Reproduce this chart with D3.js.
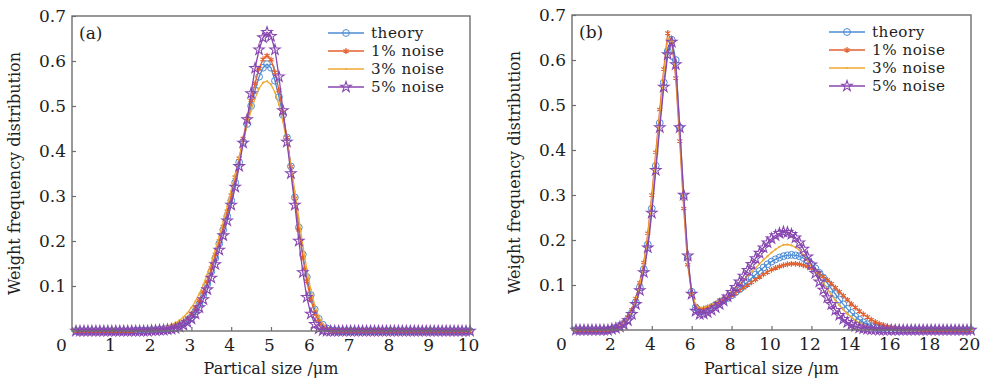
<!DOCTYPE html>
<html>
<head>
<meta charset="utf-8">
<script src="https://cdn.jsdelivr.net/npm/d3@7"></script>
<style>
  body { margin: 0; background: #fff; }
  svg text { font-family: "DejaVu Serif", serif; fill: #1e1e1e; }
</style>
</head>
<body>
<svg id="chart" width="982" height="382"></svg>
<script>
// series names and styles
const seriesNames = ["theory", "1% noise", "3% noise", "5% noise"];
const seriesColors = ["#4c8bd2", "#e4612f", "#f0a935", "#8747b0"];
const seriesMarkers = ["circle", "asterisk", "dot", "star"];

// panel (a): particle size 0.1..10 um
const sizesA = [0.1,0.2,0.3,0.4,0.5,0.6,0.7,0.8,0.9,1.0,1.1,1.2,1.3,1.4,1.5,1.6,1.7,1.8,1.9,2.0,
  2.1,2.2,2.3,2.4,2.5,2.6,2.7,2.8,2.9,3.0,3.1,3.2,3.3,3.4,3.5,3.6,3.7,3.8,3.9,4.0,
  4.1,4.2,4.3,4.4,4.5,4.6,4.7,4.8,4.9,5.0,5.1,5.2,5.3,5.4,5.5,5.6,5.7,5.8,5.9,6.0,
  6.1,6.2,6.3,6.4,6.5,6.6,6.7,6.8,6.9,7.0,7.1,7.2,7.3,7.4,7.5,7.6,7.7,7.8,7.9,8.0,
  8.1,8.2,8.3,8.4,8.5,8.6,8.7,8.8,8.9,9.0,9.1,9.2,9.3,9.4,9.5,9.6,9.7,9.8,9.9,10.0];

const theoryA = [0,0,0,0,0,0,0,0,0,0,0,0,0,0,0,0.001,0.001,0.001,0.001,0.002,
  0.002,0.003,0.004,0.005,0.007,0.009,0.012,0.016,0.022,0.030,0.044,0.060,0.080,0.104,0.132,0.162,0.194,0.225,0.255,0.290,
  0.330,0.375,0.420,0.460,0.500,0.535,0.565,0.585,0.593,0.585,0.556,0.520,0.480,0.430,0.366,0.297,0.230,0.170,0.120,0.080,
  0.048,0.027,0.014,0.006,0.002,0.001,0,0,0,0,0,0,0,0,0,0,0,0,0,0,
  0,0,0,0,0,0,0,0,0,0,0,0,0,0,0,0,0,0,0,0];
const noise1A = [0,0,0,0,0,0,0,0,0,0,0,0,0,0,0,0.001,0.001,0.002,0.002,0.003,
  0.003,0.004,0.005,0.007,0.009,0.012,0.016,0.021,0.028,0.038,0.051,0.067,0.087,0.110,0.140,0.170,0.200,0.232,0.266,0.302,
  0.342,0.384,0.428,0.472,0.512,0.550,0.583,0.604,0.612,0.603,0.575,0.535,0.486,0.430,0.365,0.295,0.225,0.163,0.110,0.070,
  0.040,0.021,0.010,0.004,0.001,0,0,0,0,0,0,0,0,0,0,0,0,0,0,0,
  0,0,0,0,0,0,0,0,0,0,0,0,0,0,0,0,0,0,0,0];
const noise3A = [0,0,0,0,0,0,0,0,0,0,0,0,0,0,0,0.001,0.002,0.002,0.003,0.004,
  0.005,0.006,0.008,0.011,0.014,0.018,0.024,0.031,0.040,0.052,0.066,0.083,0.103,0.126,0.152,0.180,0.210,0.243,0.277,0.312,
  0.348,0.385,0.422,0.458,0.490,0.517,0.539,0.552,0.555,0.548,0.530,0.503,0.465,0.420,0.368,0.310,0.250,0.190,0.137,0.092,
  0.057,0.032,0.016,0.007,0.003,0.001,0,0,0,0,0,0,0,0,0,0,0,0,0,0,
  0,0,0,0,0,0,0,0,0,0,0,0,0,0,0,0,0,0,0,0];
const noise5A = [0,0,0,0,0,0,0,0,0,0,0,0,0,0,0,0,0,0,0,0.001,
  0.001,0.002,0.002,0.003,0.004,0.006,0.009,0.013,0.019,0.027,0.038,0.052,0.070,0.092,0.118,0.148,0.180,0.212,0.245,0.280,
  0.320,0.366,0.418,0.470,0.528,0.584,0.625,0.652,0.664,0.655,0.625,0.565,0.490,0.420,0.350,0.280,0.200,0.130,0.075,0.038,
  0.015,0.005,0.001,0,0,0,0,0,0,0,0,0,0,0,0,0,0,0,0,0,
  0,0,0,0,0,0,0,0,0,0,0,0,0,0,0,0,0,0,0,0];

// panel (b): particle size 0.2..20 um
const sizesB = [0.2,0.4,0.6,0.8,1.0,1.2,1.4,1.6,1.8,2.0,2.2,2.4,2.6,2.8,3.0,3.2,3.4,3.6,3.8,4.0,
  4.2,4.4,4.6,4.8,5.0,5.2,5.4,5.6,5.8,6.0,6.2,6.4,6.6,6.8,7.0,7.2,7.4,7.6,7.8,8.0,
  8.2,8.4,8.6,8.8,9.0,9.2,9.4,9.6,9.8,10.0,10.2,10.4,10.6,10.8,11.0,11.2,11.4,11.6,11.8,12.0,
  12.2,12.4,12.6,12.8,13.0,13.2,13.4,13.6,13.8,14.0,14.2,14.4,14.6,14.8,15.0,15.2,15.4,15.6,15.8,16.0,
  16.2,16.4,16.6,16.8,17.0,17.2,17.4,17.6,17.8,18.0,18.2,18.4,18.6,18.8,19.0,19.2,19.4,19.6,19.8,20.0];

const theoryB = [0,0,0,0,0,0,0,0,0,0.002,0.004,0.008,0.014,0.024,0.038,0.062,0.095,0.135,0.190,0.270,
  0.365,0.460,0.550,0.620,0.645,0.600,0.450,0.295,0.160,0.085,0.050,0.040,0.043,0.047,0.051,0.056,0.061,0.066,0.071,0.077,
  0.084,0.091,0.098,0.106,0.115,0.123,0.131,0.139,0.146,0.152,0.157,0.161,0.164,0.166,0.167,0.166,0.164,0.160,0.154,0.146,
  0.137,0.127,0.116,0.104,0.092,0.080,0.068,0.057,0.047,0.038,0.030,0.023,0.017,0.013,0.009,0.006,0.004,0.003,0.002,0.001,
  0.001,0,0,0,0,0,0,0,0,0,0,0,0,0,0,0,0,0,0,0];
const noise1B = [0,0,0,0,0,0,0,0,0,0.003,0.005,0.010,0.017,0.029,0.045,0.070,0.105,0.150,0.215,0.300,
  0.395,0.490,0.580,0.660,0.640,0.560,0.420,0.270,0.145,0.080,0.053,0.047,0.048,0.050,0.053,0.057,0.061,0.066,0.071,0.076,
  0.082,0.088,0.094,0.100,0.106,0.112,0.118,0.124,0.129,0.134,0.138,0.141,0.144,0.146,0.147,0.147,0.146,0.144,0.141,0.137,
  0.132,0.126,0.119,0.111,0.103,0.094,0.085,0.076,0.067,0.058,0.050,0.042,0.035,0.029,0.023,0.018,0.014,0.011,0.008,0.006,
  0.004,0.003,0.002,0.002,0.001,0.001,0.001,0,0,0,0,0,0,0,0,0,0,0,0,0];
const noise3B = [0,0,0,0,0,0,0,0,0,0.003,0.005,0.009,0.016,0.027,0.043,0.068,0.102,0.146,0.210,0.292,
  0.385,0.480,0.570,0.648,0.640,0.575,0.435,0.285,0.155,0.085,0.055,0.049,0.050,0.053,0.057,0.062,0.067,0.073,0.079,0.086,
  0.094,0.102,0.111,0.120,0.129,0.138,0.147,0.156,0.164,0.172,0.179,0.185,0.189,0.190,0.188,0.184,0.177,0.167,0.155,0.143,
  0.131,0.118,0.105,0.091,0.078,0.066,0.055,0.045,0.036,0.029,0.022,0.016,0.012,0.008,0.005,0.003,0.002,0.001,0.001,0,
  0,0,0,0,0,0,0,0,0,0,0,0,0,0,0,0,0,0,0,0];
const noise5B = [0,0,0,0,0,0,0,0,0,0.002,0.004,0.007,0.012,0.021,0.035,0.057,0.088,0.128,0.183,0.260,
  0.355,0.450,0.540,0.612,0.640,0.590,0.450,0.300,0.165,0.080,0.042,0.035,0.036,0.039,0.044,0.050,0.057,0.065,0.074,0.084,
  0.095,0.107,0.120,0.133,0.146,0.159,0.171,0.183,0.194,0.203,0.210,0.215,0.218,0.217,0.213,0.205,0.194,0.180,0.163,0.145,
  0.126,0.107,0.089,0.072,0.057,0.044,0.033,0.024,0.017,0.012,0.008,0.005,0.003,0.002,0.001,0.001,0,0,0,0,
  0,0,0,0,0,0,0,0,0,0,0,0,0,0,0,0,0,0,0,0];

const yTicks = [0.1, 0.2, 0.3, 0.4, 0.5, 0.6, 0.7];
const xTicksA = [0,1,2,3,4,5,6,7,8,9,10];
const xTicksB = [0,2,4,6,8,10,12,14,16,18,20];

const svg = d3.select("#chart");

function drawMarker(g, type, color, x, y) {
    if (type === "circle") {
        g.append("circle").attr("cx", x).attr("cy", y).attr("r", 3.4)
            .attr("fill", "none").attr("stroke", color).attr("stroke-width", 1);
    } else if (type === "asterisk") {
        g.append("path").attr("transform", `translate(${x},${y})`)
            .attr("d", d3.symbol(d3.symbolAsterisk, 24)())
            .attr("fill", "none").attr("stroke", color).attr("stroke-width", 1.2);
    } else if (type === "dot") {
        g.append("circle").attr("cx", x).attr("cy", y).attr("r", 1.1).attr("fill", color);
    } else {
        g.append("path").attr("transform", `translate(${x},${y})`)
            .attr("d", d3.symbol(d3.symbolStar, 34)())
            .attr("fill", "none").attr("stroke", color).attr("stroke-width", 1.1);
    }
}

function drawPanel(opt) {
    const g = svg.append("g");
    const x = d3.scaleLinear().domain(opt.xDomain).range([opt.left, opt.right]);
    const y = d3.scaleLinear().domain([0, 0.7]).range([opt.bottom, opt.top]);

    const line = d3.line().x(d => x(d[0])).y(d => y(d[1]));
    opt.series.forEach((vals, i) => {
        const pts = opt.sizes.map((s, k) => [s, vals[k]]);
        const sg = g.append("g");
        sg.append("path").datum(pts).attr("d", line)
            .attr("fill", "none").attr("stroke", seriesColors[i]).attr("stroke-width", 1.3);
        pts.forEach(p => drawMarker(sg, seriesMarkers[i], seriesColors[i], x(p[0]), y(p[1])));
    });

    // frame
    g.append("rect").attr("x", opt.left).attr("y", opt.top)
        .attr("width", opt.right - opt.left).attr("height", opt.bottom - opt.top)
        .attr("fill", "none").attr("stroke", "#6e6e6e").attr("stroke-width", 1.4);

    const xa = g.append("g").attr("transform", `translate(0,${opt.bottom})`)
        .call(d3.axisBottom(x).tickValues(opt.xTicks).tickSizeInner(-4).tickSizeOuter(0).tickPadding(8)
            .tickFormat(d3.format("d")));
    xa.select(".domain").remove();
    xa.selectAll(".tick line").attr("stroke", "#6e6e6e").attr("stroke-width", 1.2);
    xa.selectAll(".tick text").attr("font-size", 17).attr("font-family", "DejaVu Serif").attr("fill", "#1e1e1e")
        .attr("dx", d => d === 0 ? -11 : -2);

    const ya = g.append("g").attr("transform", `translate(${opt.left},0)`)
        .call(d3.axisLeft(y).tickValues(yTicks).tickSizeInner(-4).tickSizeOuter(0).tickPadding(6)
            .tickFormat(d3.format(".1f")));
    ya.select(".domain").remove();
    ya.selectAll(".tick line").attr("stroke", "#6e6e6e").attr("stroke-width", 1.2);
    ya.selectAll(".tick text").attr("font-size", 17).attr("font-family", "DejaVu Serif").attr("fill", "#1e1e1e");

    g.append("text").attr("x", (opt.left + opt.right) / 2).attr("y", 374)
        .attr("text-anchor", "middle").attr("font-size", 16).text("Partical size /\u03bcm");
    g.append("text").attr("transform", `translate(${opt.left - 52},${(opt.top + opt.bottom) / 2}) rotate(-90)`)
        .attr("text-anchor", "middle").attr("font-size", 16).text("Weight frequency distribution");

    g.append("text").attr("x", opt.left + 7).attr("y", opt.top + 23)
        .attr("font-size", 17).text(opt.label);

    // legend
    const lg = g.append("g");
    seriesNames.forEach((name, i) => {
        const ly = opt.legendY + i * 18;
        lg.append("line").attr("x1", opt.legendX).attr("x2", opt.legendX + 36)
            .attr("y1", ly).attr("y2", ly).attr("stroke", seriesColors[i]).attr("stroke-width", 1.3);
        drawMarker(lg, seriesMarkers[i], seriesColors[i], opt.legendX + 18, ly);
        lg.append("text").attr("x", opt.legendX + 43).attr("y", ly + 5)
            .attr("font-size", 15.2).attr("letter-spacing", 0.5).text(name);
    });
}

drawPanel({
    left: 72, right: 470, top: 16, bottom: 331,
    xDomain: [0, 10], xTicks: xTicksA, sizes: sizesA,
    series: [theoryA, noise1A, noise3A, noise5A],
    label: "(a)", legendX: 328, legendY: 33
});
drawPanel({
    left: 572, right: 971, top: 15, bottom: 330,
    xDomain: [0, 20], xTicks: xTicksB, sizes: sizesB,
    series: [theoryB, noise1B, noise3B, noise5B],
    label: "(b)", legendX: 829, legendY: 32
});
</script>
</body>
</html>
